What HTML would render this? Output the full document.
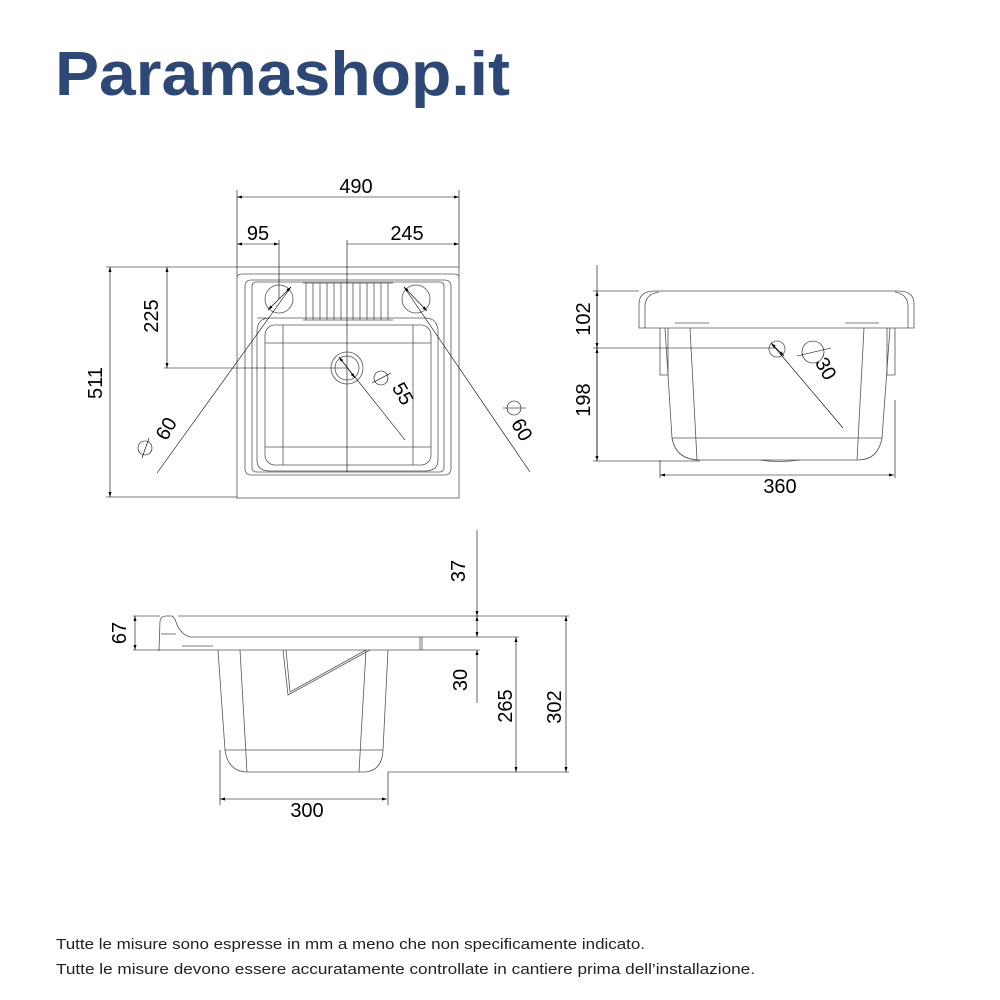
<!DOCTYPE html>
<html><head><meta charset="utf-8"><style>
html,body{margin:0;padding:0;background:#fff;}
svg{display:block;}
text{font-family:"Liberation Sans",sans-serif;}
</style></head><body>
<svg width="1000" height="1000" viewBox="0 0 1000 1000" xmlns="http://www.w3.org/2000/svg">
<defs>
<marker id="a" markerWidth="6" markerHeight="6" refX="5" refY="3" orient="auto-start-reverse" markerUnits="userSpaceOnUse"><path d="M0,1.5 L5,3 L0,4.5 z" fill="#000"/></marker>
</defs>
<text x="55" y="95" font-size="62" font-weight="bold" fill="#2d4876" textLength="455" lengthAdjust="spacingAndGlyphs">Paramashop.it</text>

<!-- TOP VIEW -->
<g fill="none" stroke="#555" stroke-width="0.8">
<rect x="237" y="267" width="222" height="231"/>
<path d="M237,277 Q237,274 243,274 L453,274 Q459,274 459,277"/>
<rect x="245" y="280" width="206" height="195" rx="6"/>
<rect x="252" y="282" width="192" height="190" rx="4"/>
<path d="M257,318 Q257,318 270,318 L425,318 Q438,318 438,332 L438,460 Q438,471 425,471 L270,471 Q257,471 257,460 L257,332 Q257,318 270,318"/>
<rect x="265" y="325" width="166" height="140" rx="10"/>
<line x1="265" y1="343" x2="431" y2="343"/>
<line x1="265" y1="447" x2="431" y2="447"/>
<line x1="283" y1="325" x2="283" y2="465"/>
<line x1="413" y1="325" x2="413" y2="465"/>
<circle cx="279" cy="299" r="14"/>
<circle cx="416" cy="299" r="14"/>
<circle cx="347" cy="368" r="16"/>
<circle cx="347" cy="368" r="12"/>
<path d="M303,283 L393,283 M303,320 L393,320"/>
<path d="M306,283v37 M313,283v37 M320,283v37 M327,283v37 M334,283v37 M341,283v37 M353,283v37 M360,283v37 M367,283v37 M374,283v37 M381,283v37 M388,283v37"/>
</g>
<g stroke="#000" stroke-width="0.6" fill="none">
<line x1="237" y1="197" x2="459" y2="197" marker-start="url(#a)" marker-end="url(#a)"/>
<line x1="237" y1="190" x2="237" y2="267"/><line x1="459" y1="190" x2="459" y2="267"/>
<line x1="237" y1="244" x2="279" y2="244" marker-start="url(#a)" marker-end="url(#a)"/>
<line x1="279" y1="240" x2="279" y2="299"/>
<line x1="347" y1="244" x2="459" y2="244" marker-end="url(#a)"/>
<line x1="347" y1="240" x2="347" y2="472"/>
<line x1="110" y1="267" x2="110" y2="497" marker-start="url(#a)" marker-end="url(#a)"/>
<line x1="106" y1="267" x2="237" y2="267"/><line x1="106" y1="497" x2="237" y2="497"/>
<line x1="167" y1="267" x2="167" y2="368" marker-start="url(#a)" marker-end="url(#a)"/>
<line x1="164" y1="368" x2="347" y2="368"/>
<line x1="291" y1="287" x2="157" y2="473"/>
<line x1="268" y1="310" x2="291" y2="287" marker-start="url(#a)" marker-end="url(#a)"/>
<line x1="404" y1="287" x2="530" y2="472"/>
<line x1="404" y1="287" x2="427" y2="311" marker-start="url(#a)" marker-end="url(#a)"/>
<line x1="339" y1="357" x2="405" y2="440"/>
<line x1="339" y1="357" x2="355" y2="378" marker-start="url(#a)" marker-end="url(#a)"/>
<circle cx="381" cy="378" r="7"/><line x1="372" y1="383" x2="391" y2="373"/>
<circle cx="145" cy="448" r="7"/><line x1="142" y1="458" x2="149" y2="438"/>
<circle cx="514" cy="408" r="7"/><line x1="503" y1="408" x2="526" y2="408"/>
</g>
<g font-size="20" fill="#000">
<text x="356" y="193" text-anchor="middle">490</text>
<text x="258" y="240" text-anchor="middle">95</text>
<text x="407" y="240" text-anchor="middle">245</text>
<text transform="translate(102,383) rotate(-90)" text-anchor="middle">511</text>
<text transform="translate(158,316) rotate(-90)" text-anchor="middle">225</text>
<text transform="translate(397,397) rotate(60)" text-anchor="middle">55</text>
<text transform="translate(172,432) rotate(-60)" text-anchor="middle">60</text>
<text transform="translate(516,433) rotate(60)" text-anchor="middle">60</text>
</g>

<!-- SIDE VIEW RIGHT -->
<g fill="none" stroke="#555" stroke-width="0.8">
<path d="M639,328 L639,304 Q639,291 655,291 L898,291 Q914,291 914,304 L914,328 Z"/>
<path d="M645,328 L645,305 Q646,294 659,292 M908,328 L908,305 Q907,294 895,292"/>
<line x1="675" y1="323" x2="709" y2="323"/><line x1="845" y1="323" x2="879" y2="323"/>
<path d="M660,328 L660,375 L668,375 L668,328 M895,328 L895,375 L887,375 L887,328"/>
<path d="M665,328 L672,438 Q676,460 700,460 L858,460 Q878,460 882,438 L890,328"/>
<line x1="672" y1="438" x2="882" y2="438"/>
<line x1="690" y1="328" x2="697" y2="460"/><line x1="864" y1="328" x2="857" y2="460"/>
<circle cx="777" cy="349" r="8"/>
<path d="M760,460 Q780,463 800,460"/>
</g>
<g stroke="#000" stroke-width="0.6" fill="none">
<line x1="597" y1="265" x2="597" y2="461"/>
<line x1="597" y1="291" x2="597" y2="348" marker-start="url(#a)" marker-end="url(#a)"/>
<line x1="597" y1="348" x2="597" y2="461" marker-start="url(#a)" marker-end="url(#a)"/>
<line x1="593" y1="291" x2="639" y2="291"/>
<line x1="593" y1="348" x2="775" y2="348"/>
<line x1="593" y1="461" x2="700" y2="461"/>
<line x1="771" y1="343" x2="843" y2="428"/>
<line x1="771" y1="343" x2="784" y2="356" marker-start="url(#a)" marker-end="url(#a)"/>
<circle cx="813" cy="352" r="11"/><line x1="797" y1="356" x2="831" y2="348"/>
<line x1="660" y1="460" x2="660" y2="478"/><line x1="895" y1="400" x2="895" y2="478"/>
<line x1="660" y1="475" x2="894" y2="475" marker-start="url(#a)" marker-end="url(#a)"/>
</g>
<g font-size="20" fill="#000">
<text transform="translate(590,319) rotate(-90)" text-anchor="middle">102</text>
<text transform="translate(590,400) rotate(-90)" text-anchor="middle">198</text>
<text transform="translate(820,372) rotate(60)" text-anchor="middle">30</text>
<text x="780" y="493" text-anchor="middle">360</text>
</g>

<!-- FRONT VIEW -->
<g fill="none" stroke="#555" stroke-width="0.8">
<path d="M178,616 L477,616"/>
<path d="M159,650 L160,621 Q161,616 166,616 L172,616 Q175,618 176,622 Q180,634 190,637 L422,637 L422,650 Z"/>
<line x1="161" y1="634" x2="176" y2="634"/>
<line x1="182" y1="646" x2="213" y2="646"/>
<path d="M218,650 L225,750 Q228,772 248,772 L363,772 Q382,772 383,750 L388,650"/>
<line x1="225" y1="750" x2="383" y2="750"/>
<line x1="240" y1="650" x2="247" y2="772"/><line x1="366" y1="650" x2="359" y2="772"/>
<path d="M283,650 L288,695 L370,650 M286,650 L290,692 L366,650"/>
<line x1="420" y1="637" x2="420" y2="650"/>
</g>
<g stroke="#000" stroke-width="0.6" fill="none">
<line x1="133" y1="616" x2="160" y2="616"/><line x1="133" y1="650" x2="160" y2="650"/>
<line x1="135" y1="616" x2="135" y2="650" marker-start="url(#a)" marker-end="url(#a)"/>
<line x1="477" y1="530" x2="477" y2="616" marker-end="url(#a)"/>
<line x1="477" y1="616" x2="477" y2="637" marker-start="url(#a)" marker-end="url(#a)"/>
<line x1="477" y1="650" x2="477" y2="703" marker-start="url(#a)"/>
<line x1="477" y1="616" x2="569" y2="616"/>
<line x1="422" y1="637" x2="519" y2="637"/>
<line x1="422" y1="650" x2="480" y2="650"/>
<line x1="388" y1="772" x2="569" y2="772"/>
<line x1="516" y1="637" x2="516" y2="772" marker-start="url(#a)" marker-end="url(#a)"/>
<line x1="566" y1="616" x2="566" y2="772" marker-start="url(#a)" marker-end="url(#a)"/>
<line x1="220" y1="750" x2="220" y2="805"/><line x1="388" y1="772" x2="388" y2="805"/>
<line x1="220" y1="799" x2="387" y2="799" marker-start="url(#a)" marker-end="url(#a)"/>
</g>
<g font-size="20" fill="#000">
<text transform="translate(126,633) rotate(-90)" text-anchor="middle">67</text>
<text transform="translate(465,571) rotate(-90)" text-anchor="middle">37</text>
<text transform="translate(467,680) rotate(-90)" text-anchor="middle">30</text>
<text transform="translate(512,706) rotate(-90)" text-anchor="middle">265</text>
<text transform="translate(561,707) rotate(-90)" text-anchor="middle">302</text>
<text x="307" y="817" text-anchor="middle">300</text>
</g>

<g font-size="15" fill="#222">
<text x="56" y="949" textLength="589" lengthAdjust="spacingAndGlyphs">Tutte le misure sono espresse in mm a meno che non specificamente indicato.</text>
<text x="56" y="974" textLength="699" lengthAdjust="spacingAndGlyphs">Tutte le misure devono essere accuratamente controllate in cantiere prima dell’installazione.</text>
</g>
</svg>
</body></html>
